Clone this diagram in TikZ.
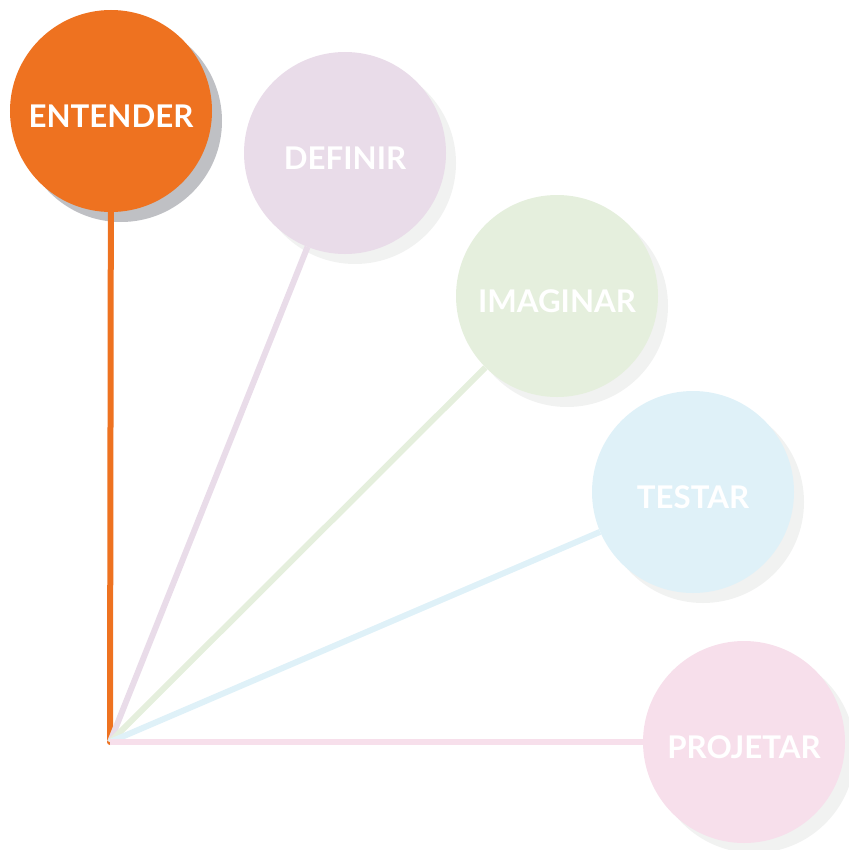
\documentclass[tikz,border=0pt]{standalone}
\usepackage{fontspec}
\setmainfont{Lato}
\usetikzlibrary{backgrounds}

\definecolor{laranja}{HTML}{EE7220}
\definecolor{lilas}{HTML}{E9DCE9}
\definecolor{verde}{HTML}{E5EFDD}
\definecolor{azul}{HTML}{DFF1F8}
\definecolor{rosa}{HTML}{F7DFEB}
\definecolor{sombraescura}{HTML}{BFC0C4}
\definecolor{sombraclara}{HTML}{F1F2F1}

\tikzset{
  etapa/.style={circle, minimum size=101mm, inner sep=0pt, text=white,
    text height=16mm, text depth=0pt,
    font=\fontsize{44.5}{44.5}\selectfont\bfseries},
  haste/.style={line width=3mm},
}

\begin{document}
\begin{tikzpicture}[x=0.5mm, y=-0.5mm]
  \useasboundingbox (0,0) rectangle (849,850);
  \coordinate (origem) at (110,742);

  % etapas
  \node[etapa, fill=laranja] (entender) at (111,111) {ENTENDER};
  \node[etapa, fill=lilas] (definir) at (345,153) {DEFINIR};
  \node[etapa, fill=verde] (imaginar) at (557,296) {IMAGINAR};
  \node[etapa, fill=azul] (testar) at (693,492) {TESTAR};
  \node[etapa, fill=rosa] (projetar) at (744,742) {PROJETAR};

  \begin{scope}[on background layer]
    % sombras
    \fill[sombraescura] ([shift={(10,10)}]entender.center) circle (101);
    \foreach \n in {definir, imaginar, testar, projetar}
      \fill[sombraclara] ([shift={(10,10)}]\n.center) circle (101);
    % hastes
    \draw[haste, laranja, line cap=round] (origem) -- (entender);
    \draw[haste, lilas] (origem) -- (definir);
    \draw[haste, verde] (origem) -- (imaginar);
    \draw[haste, azul] (origem) -- (testar);
    \draw[haste, rosa] (origem) -- (projetar);
  \end{scope}
\end{tikzpicture}
\end{document}
